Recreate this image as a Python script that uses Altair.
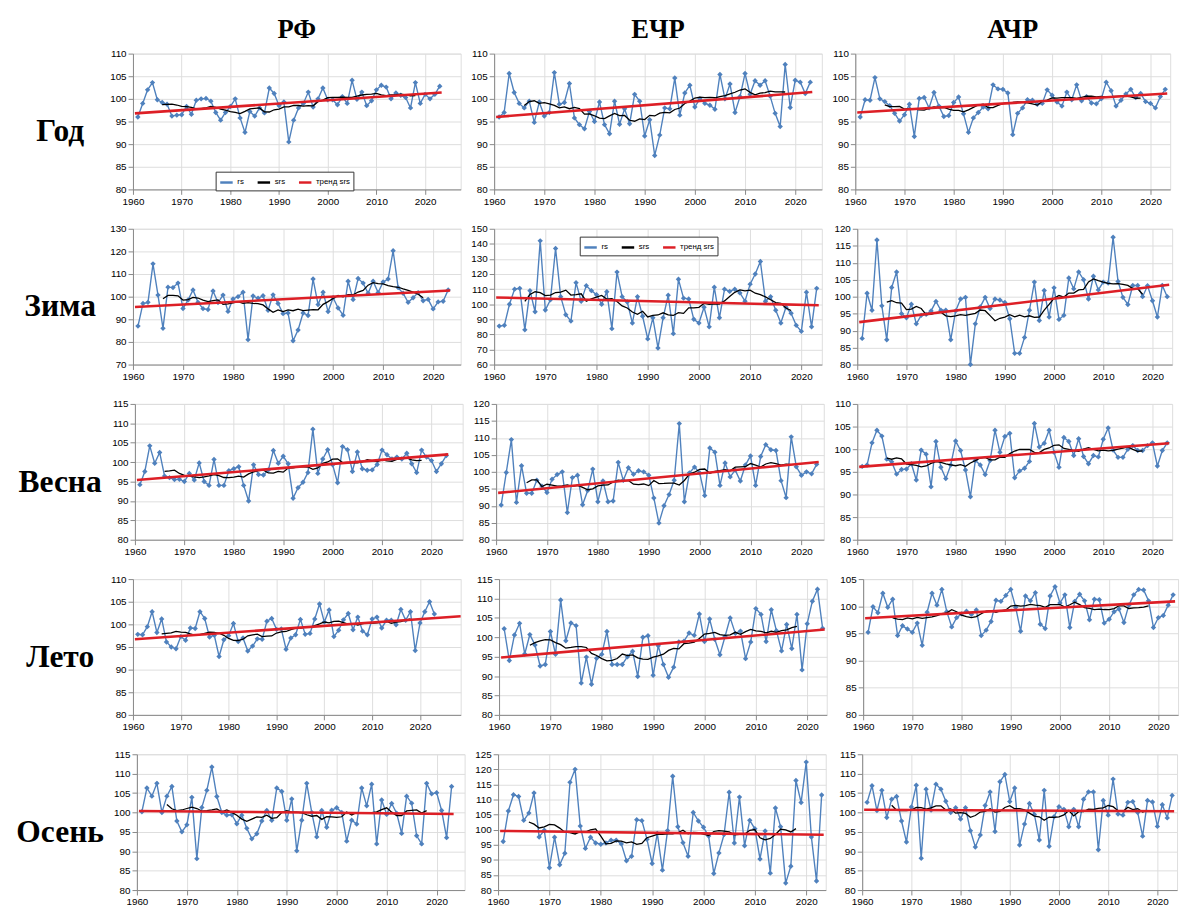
import altair as alt
import pandas as pd

YEARS = list(range(1961, 2024))
ROW_NAMES = ["Год", "Зима", "Весна", "Лето", "Осень"]
COL_NAMES = ["РФ", "ЕЧР", "АЧР"]
SER_NAMES = ["rs", "srs", "тренд srs"]
SER_COLORS = ["#4f81bd", "#000000", "#dd1f26"]
X_TICKS = [1960, 1970, 1980, 1990, 2000, 2010, 2020]

GOD_RF = [96.0, 99.0, 102.0, 103.6, 99.8, 99.2, 98.8, 96.2, 96.4, 96.5,
          98.3, 96.6, 99.7, 100.0, 100.1, 99.5, 97.0, 95.3, 97.0, 98.3,
          100.0, 95.8, 92.6, 97.2, 96.2, 98.0, 96.9, 102.4, 101.2, 98.5,
          99.3, 90.5, 95.3, 98.0, 99.0, 101.5, 98.2, 100.0, 102.4, 99.8,
          99.8, 98.7, 100.5, 99.0, 104.1, 99.9, 101.5, 98.5, 99.6,
          102.0, 103.0, 102.6, 100.0, 101.3, 100.8, 100.3, 98.0, 103.6, 99.0,
          101.0, 100.0, 101.0, 102.8]
GOD_ER = [96.0, 97.0, 105.6, 101.4, 99.0, 98.0, 99.5, 94.8, 99.3, 96.2,
          97.0, 105.8, 98.8, 99.2, 103.4, 95.8, 94.3, 93.4, 97.2, 95.0,
          99.3, 94.3, 92.3, 99.5, 94.4, 97.8, 94.5, 101.0, 99.5, 91.8,
          95.4, 87.5, 92.0, 98.0, 97.8, 104.6, 96.4, 101.3, 103.0, 98.2,
          100.0, 99.0, 98.6, 97.7, 105.4, 100.0, 103.3, 97.0, 100.5, 105.6,
          101.0, 104.0, 103.0, 104.0, 100.6, 96.8, 93.9, 107.6, 98.1, 104.1,
          103.7, 101.2, 103.7]
GOD_AR = [96.0, 99.8, 99.7, 104.7, 100.0, 99.4, 98.5, 96.8, 95.1, 96.5,
          98.8, 91.7, 100.1, 100.3, 98.0, 101.4, 98.4, 96.1, 96.3, 99.2,
          100.4, 96.7, 92.6, 95.8, 97.0, 98.2, 97.8, 103.1, 102.2, 102.1,
          101.3, 92.1, 96.8, 98.0, 99.8, 99.7, 98.8, 99.0, 102.0, 100.8,
          99.3, 98.4, 101.5, 99.8, 103.1, 99.6, 100.5, 99.1, 98.9, 100.0,
          103.7, 101.8, 98.4, 99.7, 101.1, 102.1, 100.3, 101.2, 99.4, 99.0,
          98.0, 100.5, 102.1]

ZIMA_RF = [87, 97, 97.5, 114.5, 100.7, 86, 104.2, 104, 106, 94.8,
           98.5, 103, 97.5, 94.7, 94.3, 102.5, 97.4, 100.7, 93.5, 99,
           100, 102, 81, 100.3, 99.3, 100.4, 94, 100.8, 97, 92.5,
           92.8, 80.5, 85.3, 92.8, 91.7, 107.8, 96.5, 102, 93.4, 99.5,
           95, 91.8, 106.8, 98.7, 108, 106, 101.5, 106.8, 101.8, 106.5,
           107.8, 120.3, 104, 101.5, 97.5, 99.5, 101.8, 98.2, 98.8, 94.6,
           97.7, 98, 103]
ZIMA_ER = [85.5, 86, 100, 110, 110.5, 83, 109, 95, 142, 96.2,
           103, 137, 105, 93, 88.8, 114.3, 102, 112.3, 109, 106.3,
           100, 108.3, 83.8, 121.3, 105, 101.5, 87.5, 105, 92, 77,
           91, 71, 91, 106, 80.5, 116.5, 104, 103.5, 90, 87.5,
           98, 85, 111.3, 91, 110, 108.5, 110, 107.5, 102, 113.3,
           120, 128.3, 102, 105, 96, 87.5, 98, 94, 86, 82,
           108, 85, 110.5]
ZIMA_AR = [87.7, 101, 96, 116.7, 97.3, 87.3, 102.7, 107.3, 95, 93.8,
           97.8, 92, 94.5, 94.8, 95.8, 98.6, 96, 96, 87.3, 95.8,
           99.3, 99.8, 80, 92, 97, 99.8, 96.5, 99.3, 99, 98.3,
           93.5, 83.3, 83.3, 88, 96, 104.3, 93, 101.8, 94, 102.6,
           93.3, 94.5, 105.5, 102.3, 107.3, 105, 99.3, 106, 102, 104.3,
           104, 117.5, 104.5, 99.8, 97.7, 103.3, 103.3, 100, 103.2, 98.8,
           94, 103.3, 100]

VESNA_RF = [94.2, 97.6, 104.2, 99.7, 102.5, 96.4, 96.0, 95.5, 95.6, 95.0,
            97.1, 95.4, 99.8, 95.0, 94.0, 100.7, 94.0, 94.0, 97.8, 98.3,
            98.8, 94.0, 90.0, 99.3, 96.8, 96.7, 98.0, 103.0, 99.7, 101.5,
            99.6, 90.7, 93.4, 94.8, 97.3, 108.5, 97.1, 100.8, 103.2, 99.3,
            94.7, 104.0, 103.2, 97.6, 102.6, 98.3, 97.9, 98.0, 99.4, 103.1,
            101.9, 100.8, 101.3, 100.8, 102.3, 99.6, 97.3, 103.1, 101.3, 100.4,
            97.6, 99.6, 101.7]
VESNA_ER = [90.2, 99.8, 109.5, 91.0, 101.8, 93.7, 93.7, 97.5, 95.8, 93.9,
            97.8, 99.2, 100.0, 88.0, 98.3, 99.0, 90.3, 94.5, 100.8, 91.2,
            97.3, 91.2, 91.4, 102.8, 97.5, 101.2, 99.3, 100.3, 100.0, 99.0,
            92.3, 84.9, 90.0, 93.3, 97.5, 114.2, 91.2, 99.7, 101.4, 99.7,
            93.0, 107.0, 105.8, 96.0, 102.6, 98.5, 100.5, 97.3, 102.0, 104.7,
            96.0, 104.5, 108.0, 106.5, 106.3, 97.4, 92.4, 110.3, 101.5, 99.0,
            100.0, 99.4, 102.2]
VESNA_AR = [96.2, 96.5, 101.4, 104.2, 102.9, 97.8, 97.2, 94.5, 95.5, 95.6,
            96.8, 93.2, 99.8, 98.9, 91.7, 101.7, 96.0, 93.5, 96.5, 101.8,
            99.7, 95.4, 89.5, 97.5, 96.5, 94.4, 97.5, 104.2, 99.3, 102.8,
            103.5, 93.7, 95.2, 95.8, 97.3, 105.7, 100.5, 101.3, 104.2, 99.3,
            96.0, 102.6, 101.7, 98.6, 102.3, 98.4, 96.8, 98.6, 98.3, 102.2,
            104.7, 99.8, 98.2, 98.2, 100.0, 100.8, 99.7, 99.7, 100.8, 101.4,
            96.3, 99.7, 101.4]

LETO_RF = [97.8, 97.7, 99.5, 102.8, 98.2, 101.2, 96.1, 95.0, 94.6, 97.3,
           96.5, 99.2, 99.1, 102.8, 101.3, 97.2, 97.6, 92.9, 96.6, 97.5,
           100.2, 96.2, 97.0, 94.1, 95.2, 96.8, 96.7, 100.7, 101.3, 98.9,
           99.0, 94.5, 97.0, 97.7, 101.1, 97.8, 98.0, 101.2, 104.5, 100.5,
           103.2, 97.3, 98.7, 101.0, 102.4, 98.8, 101.6, 98.5, 97.7, 101.2,
           101.6, 99.2, 100.9, 100.9, 99.9, 103.3, 100.9, 102.8, 94.2, 100.3,
           102.8, 105.0, 102.3]
LETO_ER = [102.2, 94.0, 100.6, 103.6, 95.7, 100.7, 98.0, 92.6, 93.0, 101.5,
           95.6, 109.6, 99.1, 103.7, 103.0, 88.2, 94.9, 87.9, 94.6, 95.6,
           101.5, 93.0, 93.0, 93.0, 95.0, 96.4, 89.9, 100.0, 100.4, 90.2,
           97.8, 93.0, 89.7, 92.3, 98.8, 99.0, 101.1, 100.5, 106.0, 98.9,
           104.7, 99.5, 95.5, 100.2, 105.0, 101.0, 101.6, 94.5, 98.8, 107.4,
           105.9, 98.9, 107.1, 101.7, 96.5, 103.3, 97.1, 105.9, 91.6, 103.5,
           109.3, 112.4, 102.3]
LETO_AR = [95.2, 99.9, 98.8, 102.4, 99.8, 101.3, 94.6, 96.4, 95.8, 95.2,
           96.9, 92.8, 98.9, 102.4, 100.2, 103.1, 99.0, 96.2, 97.9, 98.6,
           99.1, 98.5, 99.3, 94.6, 95.6, 97.2, 101.1, 100.9, 102.0, 103.1,
           99.8, 95.4, 101.9, 101.0, 102.5, 96.7, 95.9, 101.9, 103.6, 100.6,
           102.1, 96.1, 100.9, 102.2, 101.0, 97.5, 101.3, 101.2, 96.9, 97.6,
           99.0, 99.5, 97.0, 100.2, 102.1, 103.1, 103.0, 101.0, 96.1, 97.9,
           98.3, 100.2, 102.1]

OSEN_RF = [100.2, 106.3, 104.2, 107.5, 100.0, 104.2, 106.7, 97.8, 95.0, 96.8,
           103.9, 88.1, 101.3, 105.7, 111.7, 104.1, 100.0, 99.3, 99.4, 97.1,
           99.3, 95.9, 93.2, 94.5, 97.8, 100.5, 98.0, 106.3, 105.4, 98.0,
           103.5, 90.1, 98.0, 107.5, 100.0, 93.7, 100.5, 96.2, 100.6, 101.2,
           100.0, 92.6, 98.0, 97.0, 106.3, 101.7, 107.3, 91.9, 103.2, 99.5,
           102.3, 99.8, 94.6, 104.2, 102.4, 94.0, 91.9, 107.5, 104.8, 105.1,
           100.5, 93.5, 106.7]
OSEN_ER = [96.1, 106.2, 111.6, 111.0, 103.1, 105.5, 112.2, 97.6, 99.8, 87.4,
           97.5, 88.4, 92.2, 115.7, 120.0, 101.2, 93.8, 97.5, 95.6, 95.2,
           95.6, 96.5, 96.5, 95.3, 89.7, 91.2, 103.3, 103.0, 96.8, 88.8,
           98.8, 86.6, 99.7, 117.7, 101.0, 95.7, 91.2, 105.7, 102.9, 100.8,
           97.9, 85.5, 92.3, 98.4, 112.4, 95.6, 110.8, 94.7, 103.1, 100.3,
           90.3, 99.6, 85.6, 107.2, 101.0, 82.3, 87.9, 116.3, 109.0, 122.4,
           97.6, 83.0, 111.5]
OSEN_AR = [102.6, 106.9, 100.5, 105.7, 98.7, 103.4, 104.1, 97.8, 92.4, 101.4,
           107.0, 88.2, 106.0, 100.6, 107.3, 106.0, 102.9, 100.0, 101.2, 98.3,
           101.2, 95.3, 91.1, 94.2, 101.8, 105.3, 95.1, 107.9, 109.8, 102.8,
           106.3, 91.6, 97.0, 102.3, 99.5, 92.9, 105.7, 91.3, 98.9, 101.5,
           100.8, 96.3, 100.8, 96.3, 103.4, 105.3, 105.3, 90.4, 103.1, 99.3,
           108.6, 99.6, 99.3, 102.6, 102.8, 100.0, 93.9, 103.1, 102.7, 96.4,
           102.0, 98.6, 104.4]

SERIES = [[GOD_RF, GOD_ER, GOD_AR],
          [ZIMA_RF, ZIMA_ER, ZIMA_AR],
          [VESNA_RF, VESNA_ER, VESNA_AR],
          [LETO_RF, LETO_ER, LETO_AR],
          [OSEN_RF, OSEN_ER, OSEN_AR]]

TREND_START = [[96.8, 96.0, 97.0], [95.4, 104.5, 92.5], [95.4, 93.8, 96.1],
               [96.7, 94.8, 97.8], [100.4, 99.6, 100.7]]
TREND_END = [[101.4, 101.5, 101.2], [102.7, 99.3, 103.5], [102.0, 102.9, 101.3],
             [101.8, 102.0, 100.9], [99.6, 98.3, 100.3]]
TREND_X0 = 1960.4
TREND_X1 = [[2023.4, 2023.4, 2023.4], [2023.4, 2023.4, 2023.4], [2023.4, 2023.4, 2023.4],
            [2028.5, 2023.4, 2023.4], [2023.4, 2023.4, 2023.4]]

Y_MIN = [[80, 80, 80], [70, 60, 80], [80, 80, 80], [80, 80, 80], [80, 80, 80]]
Y_MAX = [[110, 110, 110], [130, 150, 120], [115, 120, 110], [110, 115, 105], [115, 125, 115]]
Y_STEP = [[5, 5, 5], [10, 10, 5], [5, 5, 5], [5, 5, 5], [5, 5, 5]]
X_MAX = [[2027.3, 2025.3, 2024.0], [2025.5, 2024.0, 2024.0], [2026.3, 2024.4, 2024.0],
         [2028.5, 2023.8, 2024.0], [2025.6, 2023.8, 2024.0]]

LEGEND_POS = {(0, 0): (84, 120), (1, 1): (87, 8)}

PANEL_W = [333, 333, 320]
PANEL_H = 138
LABEL_W = 94
TITLE_FONT = "Liberation Serif"


def make_panel(r, c):
    df = pd.DataFrame({"year": YEARS, "v": SERIES[r][c]})
    tdf = pd.DataFrame({"year": [TREND_X0, TREND_X1[r][c]],
                        "v": [TREND_START[r][c], TREND_END[r][c]]})
    xsc = alt.Scale(domain=[1960, X_MAX[r][c]], nice=False, zero=False)
    ysc = alt.Scale(domain=[Y_MIN[r][c], Y_MAX[r][c]], nice=False, zero=False)
    yticks = list(range(Y_MIN[r][c], Y_MAX[r][c] + 1, Y_STEP[r][c]))
    xax = alt.Axis(values=X_TICKS, format="d", title=None, grid=True, labelFlush=False)
    yax = alt.Axis(values=yticks, title=None, grid=True)
    if (r, c) in LEGEND_POS:
        lx, ly = LEGEND_POS[(r, c)]
        leg = alt.Legend(orient="none", legendX=lx, legendY=ly, direction="horizontal",
                         title=None, symbolType="stroke", symbolStrokeWidth=2.5,
                         symbolSize=160, labelFontSize=8, labelFont="Liberation Sans",
                         strokeColor="#333333", fillColor="white", padding=3,
                         columnPadding=8, labelOffset=3)
    else:
        leg = None
    color = alt.Color("s:N", scale=alt.Scale(domain=SER_NAMES, range=SER_COLORS), legend=leg)
    X = alt.X("year:Q", scale=xsc, axis=xax)

    base = alt.Chart(df).transform_calculate(s="'rs'")
    rs_line = base.mark_line(strokeWidth=1.4).encode(
        x=X, y=alt.Y("v:Q", scale=ysc, axis=yax), color=color)
    rs_pts = base.mark_point(shape="diamond", filled=True, size=30, opacity=1).encode(
        x=X, y=alt.Y("v:Q", scale=ysc, axis=yax), color=color)
    srs = alt.Chart(df).transform_window(
        srs="mean(v)", n="count()", frame=[-5, 5], sort=[alt.SortField("year")]
    ).transform_filter("datum.n == 11").transform_calculate(s="'srs'").mark_line(
        strokeWidth=1.3).encode(x=X, y=alt.Y("srs:Q", scale=ysc, axis=yax), color=color)
    trend = alt.Chart(tdf).transform_calculate(s="'тренд srs'").mark_line(
        strokeWidth=2.6).encode(x=X, y=alt.Y("v:Q", scale=ysc, axis=yax), color=color)

    layer = alt.layer(rs_line, rs_pts, srs, trend).properties(width=PANEL_W[c], height=PANEL_H)
    if r == 0:
        layer = layer.properties(title=alt.TitleParams(
            COL_NAMES[c], font=TITLE_FONT, fontSize=27, fontWeight="bold",
            anchor="middle", offset=5, color="black"))
    return layer


def make_label(r):
    lab = alt.Chart(pd.DataFrame({"t": [ROW_NAMES[r]]})).mark_text(
        font=TITLE_FONT, fontSize=32, fontWeight="bold", color="black",
        align="center", baseline="middle").encode(
        text="t:N", x=alt.value(LABEL_W / 2 + 6), y=alt.value(PANEL_H / 2 + 10)
    ).properties(width=LABEL_W, height=PANEL_H, view=alt.ViewBackground(stroke="transparent", strokeWidth=0))
    if r == 0:
        lab = lab.properties(title=alt.TitleParams(
            " ", font=TITLE_FONT, fontSize=27, fontWeight="bold", offset=5))
    return lab


rows = []
for r in range(5):
    row = alt.hconcat(make_label(r), *[make_panel(r, c) for c in range(3)], spacing=8)
    row = row.resolve_scale(color="independent").resolve_legend(color="independent")
    rows.append(row)

chart = alt.vconcat(*rows, spacing=16).resolve_scale(
    color="independent").resolve_legend(color="independent").properties(
    padding={"left": 0, "top": 0, "right": 0, "bottom": 0}
).configure_view(stroke="transparent", strokeWidth=0).configure_axis(
    labelFont="Liberation Sans", labelFontSize=9, labelColor="#404040",
    gridColor="#c8c8c8", gridWidth=1, domainColor="#a6a6a6", tickColor="#a6a6a6",
    tickSize=3, labelPadding=2
).configure(background="white")

chart.save("out.html", embed_options={"renderer": "svg", "actions": False})
